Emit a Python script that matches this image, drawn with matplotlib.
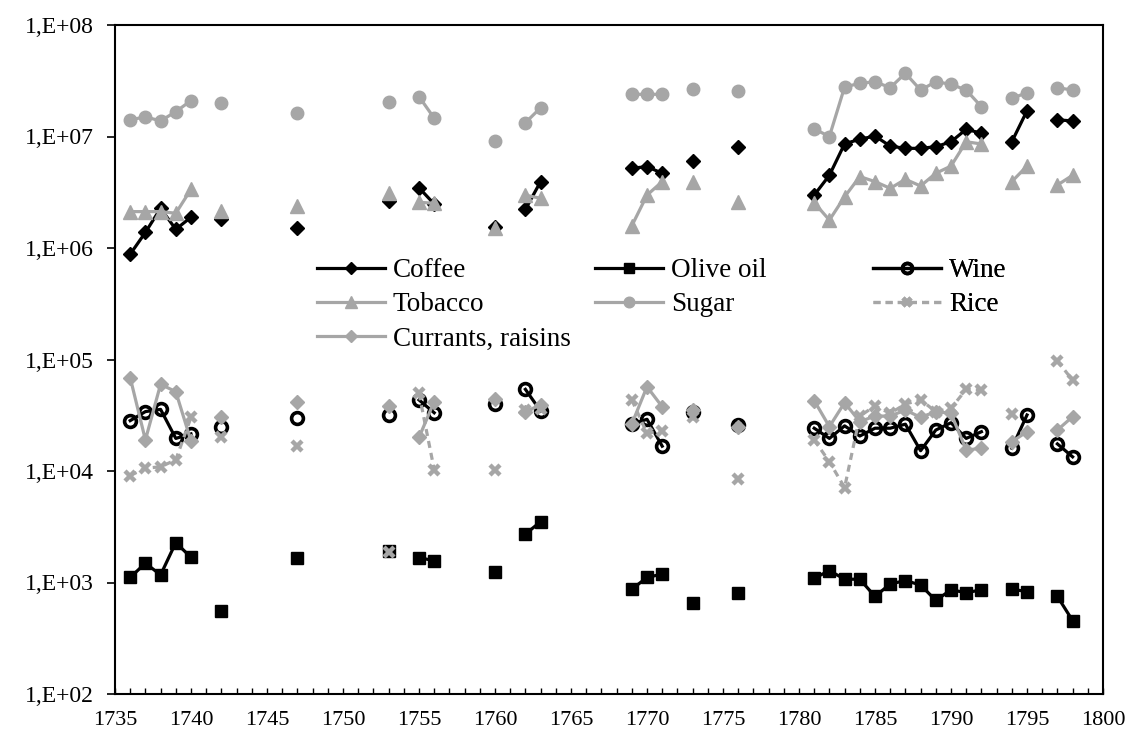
import matplotlib
matplotlib.use("Agg")
import matplotlib.pyplot as plt
from matplotlib.ticker import FixedLocator, MultipleLocator, FuncFormatter, NullLocator
import numpy as np
import pandas as pd

# years with observations (gaps between them break the lines)
years = [1736, 1737, 1738, 1739, 1740, 1742, 1747, 1753, 1755, 1756,
         1760, 1762, 1763, 1769, 1770, 1771, 1773, 1776,
         1781, 1782, 1783, 1784, 1785, 1786, 1787, 1788, 1789, 1790, 1791, 1792,
         1794, 1795, 1797, 1798]

coffee = [8.8e5, 1.38e6, 2.27e6, 1.47e6, 1.89e6, 1.82e6, 1.52e6, 2.64e6, 3.47e6, 2.48e6,
          1.55e6, 2.22e6, 3.94e6, 5.19e6, 5.37e6, 4.68e6, 6.08e6, 8.0e6,
          2.98e6, 4.49e6, 8.6e6, 9.45e6, 1.01e7, 8.2e6, 7.83e6, 7.83e6, 8.1e6, 8.97e6, 1.16e7, 1.07e7,
          8.97e6, 1.7e7, 1.41e7, 1.38e7]

olive_oil = [1.11e3, 1.49e3, 1.17e3, 2.28e3, 1.68e3, 5.6e2, 1.67e3, 1.93e3, 1.67e3, 1.57e3,
             1.25e3, 2.72e3, 3.51e3, 8.7e2, 1.11e3, 1.19e3, 6.6e2, 8.0e2,
             1.09e3, 1.28e3, 1.07e3, 1.07e3, 7.5e2, 9.7e2, 1.04e3, 9.5e2, 6.9e2, 8.6e2, 8.1e2, 8.6e2,
             8.7e2, 8.3e2, 7.5e2, 4.55e2]

wine = [2.83e4, 3.41e4, 3.57e4, 1.96e4, 2.15e4, 2.5e4, 2.97e4, 3.18e4, 4.34e4, 3.33e4,
        3.95e4, 5.4e4, 3.45e4, 2.63e4, 2.91e4, 1.67e4, 3.4e4, 2.59e4,
        2.42e4, 1.96e4, 2.54e4, 2.06e4, 2.42e4, 2.42e4, 2.63e4, 1.52e4, 2.33e4, 2.71e4, 1.96e4, 2.25e4,
        1.6e4, 3.18e4, 1.75e4, 1.34e4]

tobacco = [2.12e6, 2.12e6, 2.12e6, 2.05e6, 3.36e6, 2.16e6, 2.38e6, 3.09e6, 2.57e6, 2.52e6,
           1.5e6, 2.98e6, 2.79e6, 1.58e6, 2.98e6, 3.94e6, 3.94e6, 2.6e6,
           2.55e6, 1.78e6, 2.88e6, 4.37e6, 3.94e6, 3.43e6, 4.13e6, 3.6e6, 4.68e6, 5.43e6, 8.97e6, 8.57e6,
           3.94e6, 5.43e6, 3.67e6, 4.49e6]

sugar = [1.41e7, 1.5e7, 1.38e7, 1.67e7, 2.1e7, 2.01e7, 1.63e7, 2.05e7, 2.28e7, 1.46e7,
         9.2e6, 1.33e7, 1.81e7, 2.39e7, 2.39e7, 2.39e7, 2.65e7, 2.56e7,
         1.17e7, 1.0e7, 2.78e7, 3.0e7, 3.1e7, 2.74e7, 3.69e7, 2.61e7, 3.1e7, 2.94e7, 2.61e7, 1.85e7,
         2.2e7, 2.47e7, 2.74e7, 2.61e7]

rice = [9.1e3, 1.06e4, 1.09e4, 1.26e4, 3.03e4, 2.0e4, 1.69e4, 1.89e3, 4.97e4, 1.03e4,
        1.02e4, 3.5e4, 3.6e4, 4.34e4, 2.18e4, 2.29e4, 3.03e4, 8.4e3,
        1.9e4, 1.21e4, 7.1e3, 3.11e4, 3.83e4, 3.29e4, 3.99e4, 4.34e4, 3.41e4, 3.65e4, 5.4e4, 5.3e4,
        3.25e4, None, 9.75e4, 6.5e4]

currants = [6.87e4, 1.9e4, 6.0e4, 5.14e4, 1.86e4, 3.03e4, 4.13e4, 3.85e4, 2.0e4, 4.19e4,
            4.4e4, 3.41e4, 3.91e4, 2.64e4, 5.7e4, 3.77e4, 3.52e4, 2.5e4,
            4.28e4, 2.5e4, 4.1e4, 2.77e4, 3.11e4, 3.11e4, 3.52e4, 3.03e4, 3.41e4, 3.29e4, 1.54e4, 1.6e4,
            1.83e4, 2.25e4, 2.33e4, 3.07e4]

GRAY = "#A6A6A6"
all_years = np.arange(1735, 1801)


def annual(values):
    # put the series on a full yearly grid so missing years become gaps
    s = pd.Series([np.nan if v is None else v for v in values], index=years, dtype=float)
    return s.reindex(all_years)


plt.rcParams["font.family"] = ["Liberation Serif", "DejaVu Serif"]
fig = plt.figure(figsize=(11.29, 7.35), dpi=100)
ax = fig.add_axes([115 / 1129, 1 - 694 / 735, 988 / 1129, 669 / 735])

series = [
    ("Coffee", coffee, dict(color="black", marker="D", ms=7.5, lw=2.3)),
    ("Olive oil", olive_oil, dict(color="black", marker="s", ms=9, lw=2.3)),
    ("Wine", wine, dict(color="black", marker="o", ms=8.5, mfc="none", mew=2.6, lw=2.3)),
    ("Tobacco", tobacco, dict(color=GRAY, marker="^", ms=9.5, lw=2.3)),
    ("Sugar", sugar, dict(color=GRAY, marker="o", ms=9, lw=2.3)),
    ("Rice", rice, dict(color=GRAY, marker="x", ms=7.5, mew=3.2, lw=2.3, ls=(0, (2.2, 1.6)))),
    ("Currants, raisins", currants, dict(color=GRAY, marker="D", ms=7.5, lw=2.3)),
]

handles = {}
for name, vals, style in series:
    s = annual(vals)
    line, = ax.plot(s.index, s.values, label=name, **style)
    handles[name] = line

ax.set_yscale("log")
ax.set_ylim(1e2, 1e8)
ax.set_xlim(1735, 1800)
ax.yaxis.set_major_locator(FixedLocator([10.0 ** k for k in range(2, 9)]))
ax.yaxis.set_minor_locator(NullLocator())
ax.yaxis.set_major_formatter(FuncFormatter(lambda v, p: "1,E+%02d" % round(np.log10(v))))
ax.xaxis.set_major_locator(MultipleLocator(5))
ax.xaxis.set_minor_locator(MultipleLocator(1))

ax.tick_params(axis="y", which="major", direction="out", length=6, width=1.2,
               labelsize=17, pad=9)
ax.tick_params(axis="x", which="both", direction="in", length=4.5, width=1.0,
               labelsize=16, pad=12)
for sp in ax.spines.values():
    sp.set_linewidth(1.5)

# legend in three equal-width columns, like the original
columns = [["Coffee", "Tobacco", "Currants, raisins"], ["Olive oil", "Sugar"], ["Wine", "Rice"]]
col_x = [(317 - 115) / 988, (595 - 115) / 988, (873 - 115) / 988]
for names, x0 in zip(columns, col_x):
    leg = ax.legend([handles[n] for n in names], names, loc="upper left",
                    bbox_to_anchor=(x0, (694 - 258) / 669), frameon=False,
                    fontsize=19.5, handlelength=2.5, handletextpad=0.3,
                    labelspacing=0.35, borderpad=0, borderaxespad=0, markerscale=0.85)
    ax.add_artist(leg)

fig.savefig("out.png", dpi=100)
